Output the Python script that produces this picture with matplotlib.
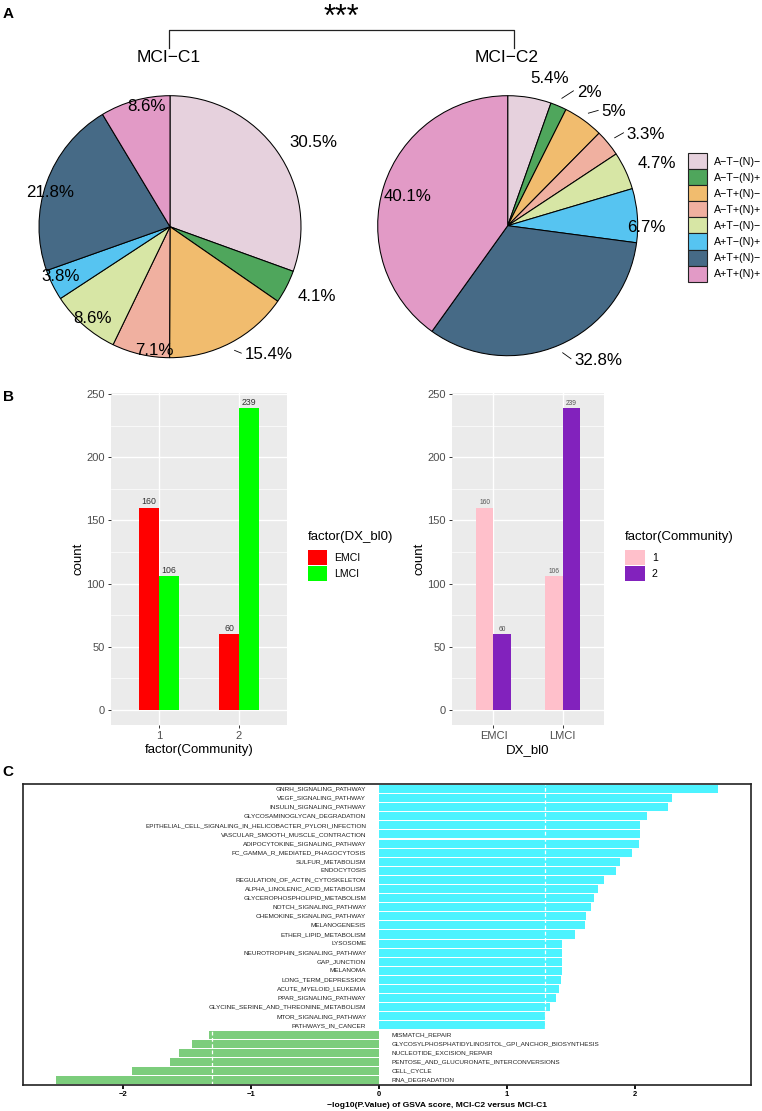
import numpy as np
import matplotlib.pyplot as plt
from matplotlib.patches import Patch
from matplotlib.ticker import MultipleLocator

# R-like sans serif (Arial metrics)
plt.rcParams['font.family'] = ['Liberation Sans', 'DejaVu Sans']

W, H = 762, 1111

# ---------------- data ----------------
# panel A: ATN profile share per cluster (%)
atn_groups = ['A−T−(N)−', 'A−T−(N)+', 'A−T+(N)−', 'A−T+(N)+',
              'A+T−(N)−', 'A+T−(N)+', 'A+T+(N)−', 'A+T+(N)+']
atn_colors = ['#E6D1DD', '#4FA65C', '#F1BC6E', '#F0B0A0',
              '#D7E6A5', '#56C4F1', '#466A86', '#E29AC6']
c1_pct = [30.5, 4.1, 15.4, 7.1, 8.6, 3.8, 21.8, 8.6]
c2_pct = [5.4, 2, 5, 3.3, 4.7, 6.7, 32.8, 40.1]

# panel B: counts, rows = diagnosis (EMCI, LMCI), cols = community (1, 2)
dx_names = ['EMCI', 'LMCI']
community = ['1', '2']
counts = np.array([[160, 60],
                   [106, 239]])

# panel C: -log10(p) of GSVA score, MCI-C2 vs MCI-C1
up_paths = ['GNRH_SIGNALING_PATHWAY', 'VEGF_SIGNALING_PATHWAY', 'INSULIN_SIGNALING_PATHWAY',
            'GLYCOSAMINOGLYCAN_DEGRADATION',
            'EPITHELIAL_CELL_SIGNALING_IN_HELICOBACTER_PYLORI_INFECTION',
            'VASCULAR_SMOOTH_MUSCLE_CONTRACTION', 'ADIPOCYTOKINE_SIGNALING_PATHWAY',
            'FC_GAMMA_R_MEDIATED_PHAGOCYTOSIS', 'SULFUR_METABOLISM', 'ENDOCYTOSIS',
            'REGULATION_OF_ACTIN_CYTOSKELETON', 'ALPHA_LINOLENIC_ACID_METABOLISM',
            'GLYCEROPHOSPHOLIPID_METABOLISM', 'NOTCH_SIGNALING_PATHWAY',
            'CHEMOKINE_SIGNALING_PATHWAY', 'MELANOGENESIS', 'ETHER_LIPID_METABOLISM',
            'LYSOSOME', 'NEUROTROPHIN_SIGNALING_PATHWAY', 'GAP_JUNCTION', 'MELANOMA',
            'LONG_TERM_DEPRESSION', 'ACUTE_MYELOID_LEUKEMIA', 'PPAR_SIGNALING_PATHWAY',
            'GLYCINE_SERINE_AND_THREONINE_METABOLISM', 'MTOR_SIGNALING_PATHWAY',
            'PATHWAYS_IN_CANCER']
up_scores = [2.65, 2.29, 2.26, 2.09, 2.04, 2.04, 2.03, 1.98, 1.88, 1.85,
             1.76, 1.71, 1.68, 1.66, 1.62, 1.61, 1.53, 1.43, 1.43, 1.43,
             1.43, 1.42, 1.41, 1.38, 1.34, 1.30, 1.30]
down_paths = ['MISMATCH_REPAIR', 'GLYCOSYLPHOSPHATIDYLINOSITOL_GPI_ANCHOR_BIOSYNTHESIS',
              'NUCLEOTIDE_EXCISION_REPAIR', 'PENTOSE_AND_GLUCURONATE_INTERCONVERSIONS',
              'CELL_CYCLE', 'RNA_DEGRADATION']
down_scores = [-1.33, -1.46, -1.56, -1.63, -1.93, -2.52]


def box(x0, y0, w, h):
    # pixel box (top-left origin) -> figure fraction
    return [x0 / W, 1 - (y0 + h) / H, w / W, h / H]


fig = plt.figure(figsize=(W / 100, H / 100), dpi=100)

# ---------------- panel A: pies ----------------
# label nudges (radius units) relative to the r=1.1 point of each slice, and leader flags
c1_nudge = [(0.01, 0.01), (0, -0.03), (0.06, 0), (-0.02, 0.125),
            (-0.01, 0.125), (0, 0.11), (-0.065, -0.11), (-0.03, -0.145)]
c1_leader = [False, False, True, False, False, False, False, False]
c2_nudge = [(-0.01, 0.05), (0.10, 0.015), (0.08, -0.017), (0.066, 0.006),
            (0, 0.01), (-0.18, -0.10), (0.075, -0.024), (0.09, -0.115)]
c2_leader = [False, True, True, True, False, False, True, False]


def draw_pie(cx, cy, r, vals, nudge, leader):
    L = 1.45
    ax = fig.add_axes(box(cx - L * r, cy - L * r, 2 * L * r, 2 * L * r))
    ax.pie(vals, colors=atn_colors, startangle=90, counterclock=False,
           wedgeprops=dict(edgecolor='black', linewidth=0.75))
    ax.set_xlim(-L, L)
    ax.set_ylim(-L, L)
    ax.set_aspect('equal')
    ax.axis('off')
    vals = np.asarray(vals, dtype=float)
    cum = np.cumsum(vals) - vals / 2
    ang = np.deg2rad(90 - 360 * cum / vals.sum())
    for v, a, (dx, dy), ld in zip(vals, ang, nudge, leader):
        tx = 1.1 * np.cos(a) + dx
        ty = 1.1 * np.sin(a) + dy
        ax.text(tx, ty, f'{v:g}%', ha='left', va='center', fontsize=12.2)
        if ld:
            ax.plot([1.065 * np.cos(a), tx - 0.025], [1.065 * np.sin(a), ty + 0.01],
                    color='black', lw=0.6, clip_on=False)


draw_pie(170, 226.7, 131, c1_pct, c1_nudge, c1_leader)
draw_pie(507.7, 225.7, 130, c2_pct, c2_nudge, c2_leader)

handles = [Patch(facecolor=c, edgecolor='#222222', linewidth=0.8) for c in atn_colors]
fig.legend(handles, atn_groups, loc='upper left',
           bbox_to_anchor=(687.7 / W, 1 - 153.3 / H), frameon=False, fontsize=7.7,
           handlelength=1.78, handleheight=1.93, labelspacing=0.0,
           handletextpad=0.68, borderpad=0, borderaxespad=0)

# ---------------- panel B: ggplot-like bars ----------------
def gg_theme(ax):
    ax.set_facecolor('#EBEBEB')
    for s in ax.spines.values():
        s.set_visible(False)
    ax.yaxis.set_major_locator(MultipleLocator(50))
    ax.yaxis.set_minor_locator(MultipleLocator(25))
    ax.grid(which='major', color='white', lw=1.0)
    ax.grid(which='minor', axis='y', color='white', lw=0.5)
    ax.set_axisbelow(True)
    ax.tick_params(which='major', color='#333333', length=2.4, width=0.7,
                   labelcolor='#4D4D4D', labelsize=8, pad=2)
    ax.tick_params(which='minor', length=0)
    ax.set_ylim(-0.05 * 239, 239 * 1.05)
    ax.set_xlim(0.4, 2.6)
    ax.set_ylabel('count', fontsize=9.5, labelpad=1.5)


def dodge_bars(ax, groups, series, colors, lab_size, lab_color):
    x = np.arange(1, len(groups) + 1)
    w = 0.25
    for k, (vals, col) in enumerate(zip(series, colors)):
        xs = x + (k - 0.5) * w
        bars = ax.bar(xs, vals, width=w, color=col, zorder=2)
        for b, v in zip(bars, vals):
            ax.annotate(str(v), (b.get_x() + w / 2, v), xytext=(0, 1.0),
                        textcoords='offset points', ha='center', va='bottom',
                        fontsize=lab_size, color=lab_color)
    ax.set_xticks(x)
    ax.set_xticklabels(groups)


axb1 = fig.add_axes(box(111, 393, 176, 332))
gg_theme(axb1)
dodge_bars(axb1, community, counts, ['#FF0000', '#00FF00'], 6.3, '#333333')
axb1.set_xlabel('factor(Community)', fontsize=9.5, labelpad=2)

axb2 = fig.add_axes(box(452, 393, 152, 332))
gg_theme(axb2)
dodge_bars(axb2, dx_names, counts.T, ['#FFC0CB', '#8222BD'], 4.8, '#555555')
axb2.set_xlabel('DX_bl0', fontsize=9.5, labelpad=2)


def gg_legend(x, y, title, labels, colors):
    fig.text(x / W, 1 - y / H, title, fontsize=9.5, ha='left', va='center')
    hs = [Patch(facecolor=c, edgecolor='none') for c in colors]
    fig.legend(hs, labels, loc='upper left', bbox_to_anchor=(x / W, 1 - (y + 13.3) / H),
               frameon=False, fontsize=7.6, handlelength=1.83, handleheight=1.77,
               labelspacing=0.14, handletextpad=0.69, borderpad=0, borderaxespad=0)


gg_legend(307.5, 536.7, 'factor(DX_bl0)', dx_names, ['#FF0000', '#00FF00'])
gg_legend(625.3, 536.7, 'factor(Community)', community, ['#FFC0CB', '#8222BD'])

# ---------------- panel C: diverging GSVA bars ----------------
axc = fig.add_axes(box(23, 784, 728, 301))
paths = up_paths + down_paths
scores = up_scores + down_scores
ypos = np.arange(len(paths))
cols = ['#4DF3FF' if s > 0 else '#7CCD7C' for s in scores]
axc.barh(ypos, scores, height=0.88, color=cols, zorder=1)
for yy, name, s in zip(ypos, paths, scores):
    if s > 0:
        axc.text(-0.1, yy, name, ha='right', va='center', fontsize=4.6, color='#222222')
    else:
        axc.text(0.1, yy, name, ha='left', va='center', fontsize=4.6, color='#222222')
for xv in (-1.3, 1.3):
    axc.axvline(xv, color='white', lw=0.9, ls=(0, (3, 2)), zorder=2)
axc.set_xlim(-2.78, 2.906)
axc.set_ylim(len(paths) - 0.45, -0.55)
axc.set_yticks([])
axc.set_xticks([-2, -1, 0, 1, 2])
axc.tick_params(axis='x', direction='out', length=3, width=1.3, color='black',
                labelsize=5.5, pad=1.5)
for lab in axc.get_xticklabels():
    lab.set_fontweight('bold')
for s in axc.spines.values():
    s.set_linewidth(1.2)
    s.set_color('#222222')
axc.set_xlabel('−log10(P.Value) of GSVA score, MCI-C2 versus MCI-C1',
               fontsize=6.1, fontweight='bold')
axc.xaxis.set_label_coords((437 - 23) / 728, -0.057)

# ---------------- overlay: letters, titles, significance bracket ----------------
ov = fig.add_axes([0, 0, 1, 1])
ov.set_xlim(0, W)
ov.set_ylim(H, 0)
ov.axis('off')
ov.text(8, 14, 'A', fontsize=11, fontweight='bold', ha='center', va='center')
ov.text(8, 397, 'B', fontsize=11, fontweight='bold', ha='center', va='center')
ov.text(8, 772, 'C', fontsize=11, fontweight='bold', ha='center', va='center')
ov.text(168.5, 57, 'MCI−C1', fontsize=12.5, ha='center', va='center')
ov.text(506.7, 58, 'MCI−C2', fontsize=12.5, ha='center', va='center')
ov.plot([169.3, 169.3, 514.3, 514.3], [48, 30, 30, 48], color='#222222', lw=0.9)
ov.text(341, 18, '***', fontsize=22, ha='center', va='center')

fig.savefig('out.png', dpi=100)
